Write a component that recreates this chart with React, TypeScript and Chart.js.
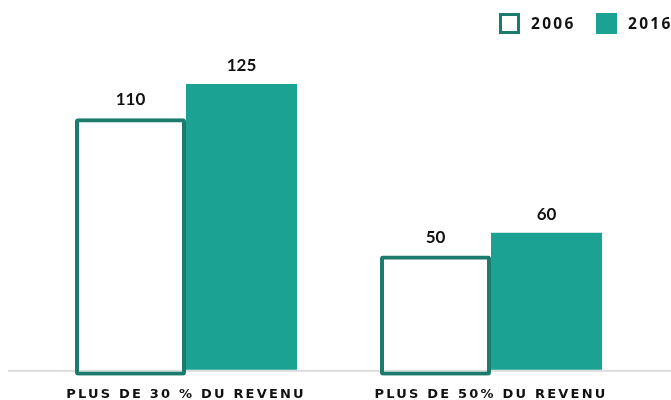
import React, { useEffect, useRef } from "react";
import { Chart, registerables } from "chart.js";

Chart.register(...registerables);

const categories = ["PLUS DE 30 % DU REVENU", "PLUS DE 50% DU REVENU"];
const seriesLabels = ["2006", "2016"];
const values2006 = [110, 50];
const values2016 = [125, 60];

const BASE_DROP = 2.6;
const OUTLINE = "#1b7b6d";
const FILL = "#1ba292";
const TEXT = "#111111";

const decorPlugin = {
  id: "decor",
  beforeDraw(chart: any) {
    const ctx = chart.ctx;
    ctx.letterSpacing = "2.2px";
  },
  beforeDatasetsDraw(chart: any) {
    const ctx = chart.ctx;
    const y = chart.scales.y.getPixelForValue(0);
    ctx.save();
    ctx.letterSpacing = "0px";
    ctx.fillStyle = "#dddddd";
    ctx.fillRect(0, y, chart.width, 2);
    ctx.restore();
  },
  afterDatasetsDraw(chart: any) {
    const ctx = chart.ctx;
    ctx.save();
    ctx.letterSpacing = "0px";
    ctx.font = "bold 17px Lato";
    ctx.fillStyle = TEXT;
    ctx.textAlign = "center";
    ctx.textBaseline = "alphabetic";
    chart.data.datasets.forEach((ds: any, di: number) => {
      const meta = chart.getDatasetMeta(di);
      meta.data.forEach((el: any, i: number) => {
        const raw = ds.data[i];
        const v = Array.isArray(raw) ? raw[1] : raw;
        ctx.fillText(String(v), el.x, el.y - 13);
      });
    });
    // legend
    ctx.font = "bold 15.5px 'Open Sans'";
    ctx.letterSpacing = "2.3px";
    ctx.textAlign = "left";
    ctx.textBaseline = "middle";
    const items = [
      { x: 491, label: chart.data.datasets[0].label, outline: true },
      { x: 588, label: chart.data.datasets[1].label, outline: false },
    ];
    items.forEach((it) => {
      if (it.outline) {
        ctx.strokeStyle = OUTLINE;
        ctx.lineWidth = 3;
        ctx.strokeRect(it.x + 1.5, 6.5, 18, 18);
      } else {
        ctx.fillStyle = FILL;
        ctx.fillRect(it.x, 5, 21, 21);
      }
      ctx.fillStyle = TEXT;
      ctx.fillText(it.label, it.x + 32, 17);
    });
    ctx.restore();
  },
};

export default function App() {
  const ref = useRef<HTMLCanvasElement | null>(null);
  useEffect(() => {
    if (!ref.current) return;
    const chart = new Chart(ref.current, {
      type: "bar",
      data: {
        labels: categories,
        datasets: [
          {
            label: seriesLabels[0],
            data: values2006.map((v) => [-BASE_DROP, v]) as any,
            backgroundColor: "rgba(255,255,255,0)",
            borderColor: OUTLINE,
            borderWidth: 4,
            borderRadius: 3,
            borderSkipped: false,
            barPercentage: 1,
            categoryPercentage: 0.728,
          },
          {
            label: seriesLabels[1],
            data: values2016,
            backgroundColor: FILL,
            borderWidth: 0,
            barPercentage: 1,
            categoryPercentage: 0.728,
          },
        ],
      },
      options: {
        responsive: false,
        animation: false,
        devicePixelRatio: 1,
        layout: { padding: { left: 25.5, right: 27.5, top: 41.7, bottom: 0 } },
        plugins: { legend: { display: false }, tooltip: { enabled: false } },
        scales: {
          x: {
            grid: { display: false, drawTicks: false },
            border: { display: false },
            afterFit: (scale: any) => {
              scale.height = 24.2;
            },
            ticks: {
              autoSkip: false,
              maxRotation: 0,
              padding: 11.5,
              color: TEXT,
              font: { family: "'DejaVu Sans'", size: 13, weight: "bold" },
            },
          },
          y: {
            display: false,
            min: -BASE_DROP,
            max: 140,
          },
        },
      },
      plugins: [decorPlugin],
    });
    return () => chart.destroy();
  }, []);
  return (
    <div style={{ position: "fixed", left: 8, top: 8, width: 663, height: 392 }}>
      <canvas ref={ref} width={663} height={392} style={{ display: "block", width: 663, height: 392 }} />
    </div>
  );
}
